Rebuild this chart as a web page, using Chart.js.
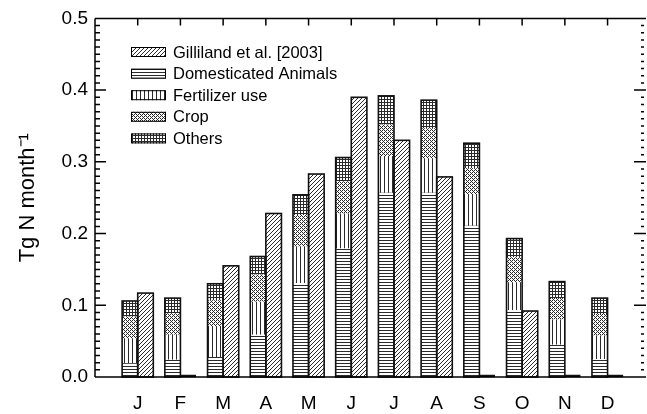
<!DOCTYPE html>
<html>
<head>
<meta charset="utf-8">
<script src="https://cdn.jsdelivr.net/npm/chart.js@4.4.0/dist/chart.umd.min.js"></script>
<style>
  body{margin:0;background:#fff}
  #wrap{width:647px;height:414px}
</style>
</head>
<body>
<div id="wrap"><canvas id="c"></canvas></div>
<script>
// monthly N emissions, Tg N month-1
const months = ["J","F","M","A","M","J","J","A","S","O","N","D"];
const gilliland  = [0.117, 0, 0.155, 0.228, 0.283, 0.390, 0.330, 0.279, 0, 0.092, 0, 0];
const animals    = [0.019, 0.024, 0.028, 0.059, 0.131, 0.179, 0.257, 0.257, 0.211, 0.093, 0.045, 0.025];
const fertilizer = [0.035, 0.035, 0.043, 0.046, 0.051, 0.049, 0.051, 0.048, 0.044, 0.039, 0.035, 0.033];
const crop       = [0.030, 0.030, 0.036, 0.038, 0.044, 0.045, 0.044, 0.042, 0.036, 0.035, 0.030, 0.030];
const others     = [0.022, 0.021, 0.023, 0.025, 0.028, 0.033, 0.040, 0.039, 0.035, 0.026, 0.023, 0.022];

const FONT = "'Liberation Sans', Arial, sans-serif";

// little tiles for the hatch fills
function hatch(kind){
  const n = {vert:4, grid:3, horiz:3}[kind] || 4;
  const c = document.createElement("canvas");
  c.width = n; c.height = n;
  const g = c.getContext("2d");
  g.fillStyle = "#fff"; g.fillRect(0,0,n,n);
  g.fillStyle = "#2a2a2a";
  for(let i=0;i<n;i++){
    for(let j=0;j<n;j++){
      let on = false;
      if(kind === "diag")  on = (i + j) % n === n-1;
      if(kind === "horiz") on = j === 0;
      if(kind === "vert")  on = i === 0;
      if(kind === "cross") on = (i + j) % 4 === 0 || (i - j + 4) % 4 === 2;
      if(kind === "grid")  on = i === 0 || j === 0;
      if(on) g.fillRect(i,j,1,1);
    }
  }
  return document.getElementById("c").getContext("2d").createPattern(c,"repeat");
}

const pts = arr => arr.map((v,i)=>({x:i, y:v}));

function ds(label, data, kind, stack){
  return {
    label, data: pts(data), stack,
    backgroundColor: hatch(kind),
    borderWidth: 0,
    categoryPercentage: 0.73, barPercentage: 1.0
  };
}

const datasets = [
  ds("Domesticated Animals", animals, "horiz", "model"),
  ds("Fertilizer use", fertilizer, "vert", "model"),
  ds("Crop", crop, "cross", "model"),
  ds("Others", others, "grid", "model"),
  ds("Gilliland et al. [2003]", gilliland, "diag", "obs")
];
const legendOrder = [4,0,1,2,3];

// IDL-style frame: outlines round whole columns, inward ticks, inset legend
const frame = {
  id: "frame",
  afterDatasetsDraw(chart){
    const {ctx, chartArea:a, scales:{x, y}} = chart;
    const bottomMeta = chart.getDatasetMeta(0);
    const topMeta = chart.getDatasetMeta(3);
    const obsMeta = chart.getDatasetMeta(4);
    ctx.save();
    ctx.strokeStyle = "#111";
    ctx.lineWidth = 1.6;
    months.forEach((m,i)=>{
      const b = bottomMeta.data[i], t = topMeta.data[i], o = obsMeta.data[i];
      ctx.strokeRect(b.x - b.width/2, t.y, b.width, b.base - t.y);
      if(o.base - o.y < 0.5){
        ctx.save(); ctx.lineWidth = 2.5;
        ctx.beginPath(); ctx.moveTo(o.x - o.width/2, o.base - 1); ctx.lineTo(o.x + o.width/2, o.base - 1); ctx.stroke();
        ctx.restore();
      } else {
        ctx.strokeRect(o.x - o.width/2, o.y, o.width, o.base - o.y);
      }
    });

    ctx.strokeStyle = "#000";
    ctx.lineWidth = 1.5;
    ctx.beginPath();
    ctx.moveTo(a.left, a.top); ctx.lineTo(a.right, a.top);
    ctx.moveTo(a.left, a.top); ctx.lineTo(a.left, a.bottom);
    ctx.moveTo(a.left, a.bottom); ctx.lineTo(a.right, a.bottom);
    for(let k=0;k<=50;k++){
      const py = y.getPixelForValue(k/100);
      const major = k % 10 === 0;
      ctx.moveTo(a.left, py); ctx.lineTo(a.left + (major ? 11 : 5), py);
      if(major){ ctx.moveTo(a.right - 12, py); ctx.lineTo(a.right, py); }
      else { ctx.moveTo(a.right - 5, py); ctx.lineTo(a.right - 2, py); }
    }
    months.forEach((m,i)=>{
      const px = x.getPixelForValue(i);
      ctx.moveTo(px, a.top); ctx.lineTo(px, a.top + 7);
    });
    ctx.stroke();

    // legend
    ctx.font = "16.5px " + FONT;
    ctx.textBaseline = "middle";
    ctx.lineWidth = 1;
    legendOrder.forEach((di,r)=>{
      const d = chart.data.datasets[di];
      const cy = 52 + r*21.6;
      ctx.fillStyle = d.backgroundColor;
      ctx.fillRect(131, cy-5, 35, 10);
      ctx.strokeRect(131.5, cy-4.5, 34, 9);
      ctx.fillStyle = "#000";
      ctx.fillText(d.label, 173, cy + 1);
    });
    ctx.restore();
  }
};

new Chart(document.getElementById("c"), {
  type: "bar",
  data: { datasets },
  options: {
    responsive: true,
    maintainAspectRatio: false,
    animation: false,
    devicePixelRatio: 1,
    layout: { padding: { top: 16, right: 1, left: 0, bottom: 0 } },
    plugins: { legend: { display: false }, tooltip: { enabled: false } },
    scales: {
      x: {
        type: "linear", min: -1, max: 11.9, offset: false,
        grid: { display: false, drawTicks: false },
        border: { display: false },
        afterBuildTicks: s => { s.ticks = months.map((m,i)=>({value:i})); },
        afterFit: s => { s.height = 37; },
        ticks: {
          autoSkip: false, maxRotation: 0, padding: 15, color: "#000",
          font: { family: FONT, size: 19 },
          callback: v => months[Math.round(v)]
        }
      },
      y: {
        min: 0, max: 0.5, stacked: true,
        grid: { display: false, drawTicks: false },
        border: { display: false },
        afterFit: s => { s.width = 95; },
        ticks: {
          stepSize: 0.1, padding: 7, color: "#000",
          font: { family: FONT, size: 19 },
          callback: v => v.toFixed(1)
        },
        title: {
          display: true, text: "Tg N month\u207B\u00B9", color: "#000",
          font: { family: FONT, size: 22 },
          padding: { top: 15, bottom: 0 }
        }
      }
    }
  },
  plugins: [frame]
});
</script>
</body>
</html>
